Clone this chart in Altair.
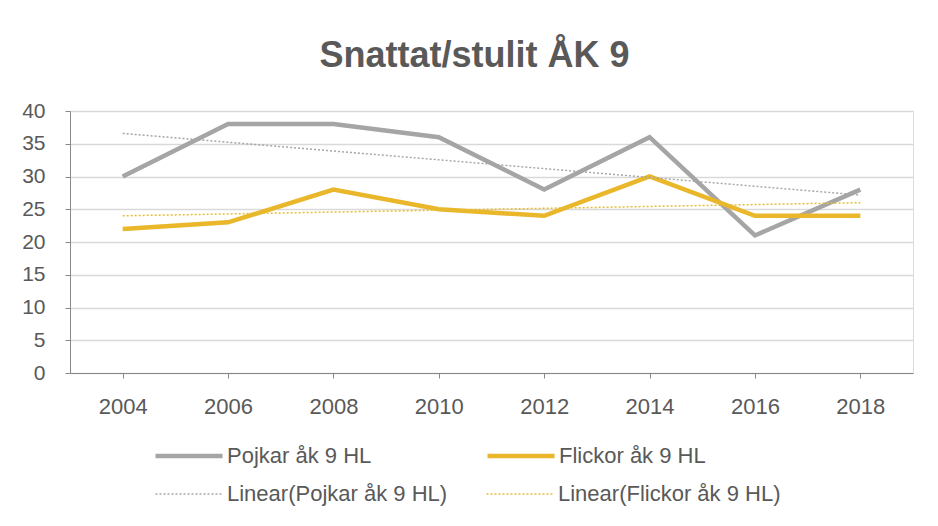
import altair as alt
import pandas as pd

years = [2004, 2006, 2008, 2010, 2012, 2014, 2016, 2018]
pojkar = [30, 38, 38, 36, 28, 36, 21, 28]
flickor = [22, 23, 28, 25, 24, 30, 24, 24]
series_names = ["Pojkar åk 9  HL", "Flickor åk 9 HL"]
trend_names = ["Linear(Pojkar åk 9  HL)", "Linear(Flickor åk 9 HL)"]
y_ticks = [0, 5, 10, 15, 20, 25, 30, 35, 40]
line_colors = ["#A5A5A5", "#E9B729"]
trend_colors = ["#A5A5A5", "#E3BD3A"]

rows = []
for name, vals in zip(series_names, [pojkar, flickor]):
    for yr, v in zip(years, vals):
        rows.append({"year": yr, "value": v, "series": name})
df = pd.DataFrame(rows)

FONT = "Liberation Sans"
TXT = "#595959"

x_enc = alt.X(
    "year:Q",
    scale=alt.Scale(domain=[2003, 2019], nice=False, zero=False),
    axis=alt.Axis(values=years, format="d", title=None, grid=False,
                  labelFontSize=22, labelFont=FONT, labelColor=TXT,
                  labelPadding=18),
)
y_enc = alt.Y(
    "value:Q",
    scale=alt.Scale(domain=[0, 40], nice=False),
    axis=alt.Axis(values=y_ticks, title=None, labelFontSize=21,
                  labelFont=FONT, labelColor=TXT, labelPadding=20,
                  gridColor="#D9D9D9", gridWidth=1.5),
)

common = dict(
    title=None, orient="none", columns=2, symbolType="M-4,0H4", symbolSize=281,
    labelFontSize=22, labelFont=FONT, labelColor=TXT, labelOffset=27,
    padding=0, labelLimit=400,
)
legend_lines = alt.Legend(legendX=108, legendY=334, columnPadding=100,
                          symbolStrokeWidth=4.5, **common)
legend_trend = alt.Legend(legendX=108, legendY=372, columnPadding=29,
                          symbolStrokeWidth=1.5, symbolDash=[2, 2], **common)

base = alt.Chart(df)

lines = base.mark_line(strokeCap="butt", strokeWidth=4.5).encode(
    x=x_enc, y=y_enc,
    color=alt.Color("series:N", scale=alt.Scale(domain=series_names, range=line_colors),
                    legend=legend_lines),
)

trend = base.transform_regression("year", "value", groupby=["series"]).transform_calculate(
    label="'Linear(' + datum.series + ')'"
).mark_line(strokeWidth=1.5, strokeDash=[2, 2]).encode(
    x=x_enc, y=y_enc,
    color=alt.Color("label:N", scale=alt.Scale(domain=trend_names, range=trend_colors),
                    legend=legend_trend),
    detail="series:N",
)

chart = alt.layer(lines, trend).resolve_scale(color="independent").resolve_legend(
    color="independent"
).properties(
    width=843, height=262,
    title=alt.TitleParams("Snattat/stulit ÅK 9", fontSize=36, font=FONT,
                          fontWeight="bold", color=TXT, anchor="middle",
                          dx=-17, offset=25),
    autosize=alt.AutoSizeParams(type="none"),
    padding={"left": 62, "top": 103, "right": 17, "bottom": 145},
).configure_view(stroke=None).configure_axis(domain=False, ticks=False).configure(background="white")

chart.save("out.html", embed_options={"renderer": "svg", "actions": False})
